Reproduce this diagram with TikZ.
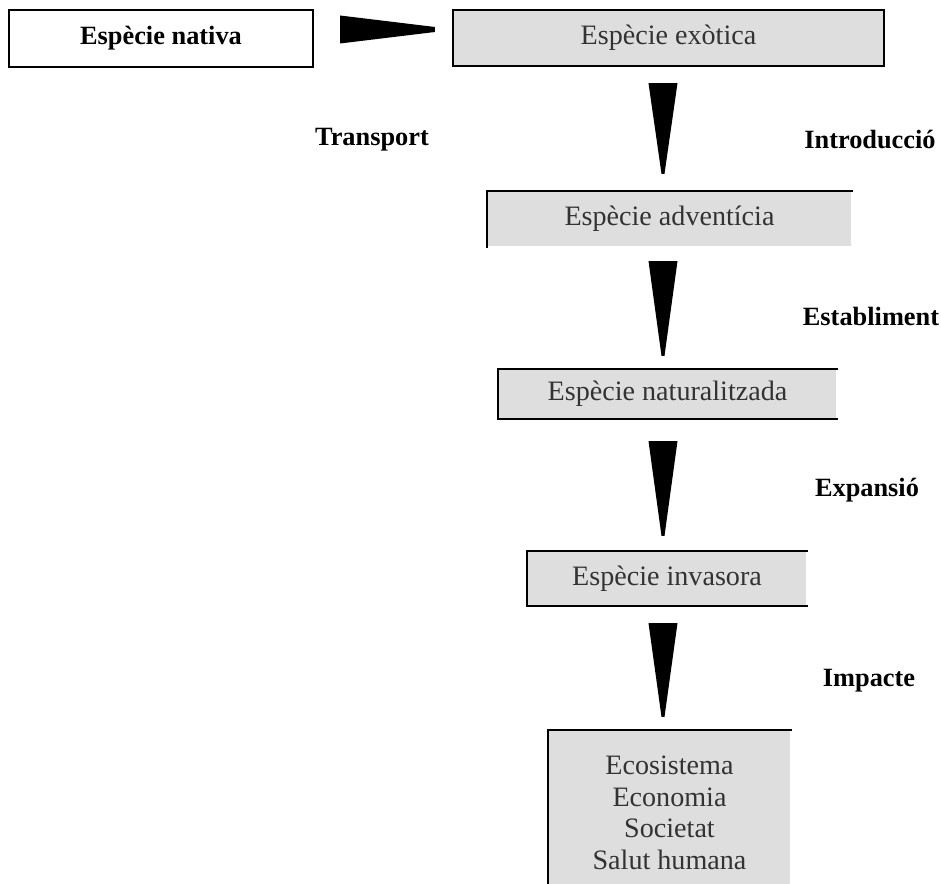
\documentclass[tikz,border=0pt]{standalone}
\usepackage{fontspec}
\setmainfont{Liberation Serif}
\usetikzlibrary{calc}
\definecolor{stageGray}{HTML}{DEDEDE}
\begin{document}
\begin{tikzpicture}[x=0.02cm,y=-0.02cm,%%
  boxStyle/.style={inner sep=0pt,line width=1.3pt},
  nativeStyle/.style={boxStyle,draw,fill=white,font=\bfseries\fontsize{15}{18}\selectfont},
  stageStyle/.style={boxStyle,fill=stageGray,text=black!80,font=\fontsize{16}{18}\selectfont},
  edgeStyle/.style={line width=1.3pt,line cap=rect},
  labelStyle/.style={font=\bfseries\fontsize{15}{18}\selectfont},
  wedgeStyle/.style={fill=black}
]
\useasboundingbox (0,0) rectangle (941,884);
%%
%% The boxes.
\node[nativeStyle,minimum width=6.08cm,minimum height=1.14cm] (nativa) at (161,38.5) {Espècie nativa};
\node[stageStyle,draw,minimum width=8.62cm,minimum height=1.12cm] (exotica) at (668.5,38) {Espècie exòtica};
\node[stageStyle,minimum width=7.26cm,minimum height=1.08cm] (adventicia) at (669.5,219) {Espècie adventícia};
\node[stageStyle,minimum width=6.74cm,minimum height=0.96cm] (naturalitzada) at (667.5,394) {Espècie naturalitzada};
\node[stageStyle,minimum width=5.56cm,minimum height=1.06cm] (invasora) at (667,578.5) {Espècie invasora};
\node[stageStyle,align=center,minimum width=4.82cm,minimum height=3.28cm] (impactes) at (669.5,813)
  {Ecosistema\\Economia\\Societat\\Salut humana};
%% Open borders of the grey boxes.
\draw[edgeStyle] (adventicia.south west) -- (adventicia.north west) -- (adventicia.north east);
\draw[edgeStyle] (naturalitzada.north east) -- (naturalitzada.north west) -- (naturalitzada.south west) -- (naturalitzada.south east);
\draw[edgeStyle] (invasora.north east) -- (invasora.north west) -- (invasora.south west) -- (invasora.south east);
\draw[edgeStyle] (impactes.south west) -- (impactes.north west) -- (impactes.north east);
%%
%% The wedges.
\coordinate (axis) at (663,0);
\path[wedgeStyle] ($(nativa.east)+(26,-23)$) -- ($(exotica.west)+(-17,-11)$)
  -- ($(exotica.west)+(-17,-6)$) -- ($(nativa.east)+(26,5)$) -- cycle;
\foreach \upper/\lower/\gapA/\gapB in {exotica/adventicia/16/17,adventicia/naturalitzada/14/13,
  naturalitzada/invasora/22/15,invasora/impactes/17/13}
  \path[wedgeStyle] ($(\upper.south -| axis)+(-14.5,\gapA)$) -- ($(\upper.south -| axis)+(14.5,\gapA)$)
    -- ($(\lower.north -| axis)+(1.5,-\gapB)$) -- ($(\lower.north -| axis)+(-1.5,-\gapB)$) -- cycle;
%%
%% Label the steps.
\node[labelStyle] (transport) at (372,140) {Transport};
\node[labelStyle] (introduccio) at (870,140) {Introducció};
\node[labelStyle] (establiment) at (871,316) {Establiment};
\node[labelStyle] (expansio) at (867,490) {Expansió};
\node[labelStyle] (impacte) at (869,681) {Impacte};
\end{tikzpicture}
\end{document}
